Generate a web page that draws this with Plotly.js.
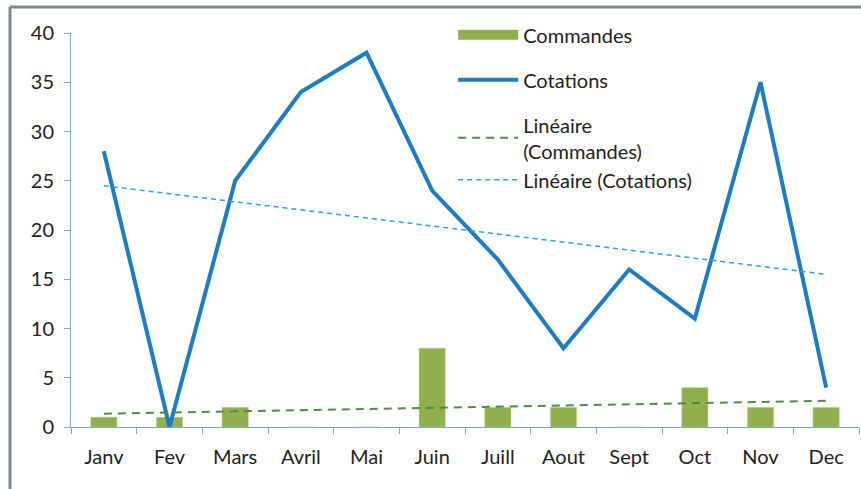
<!DOCTYPE html>
<html>
<head>
<meta charset="utf-8">
<script src="https://cdn.plot.ly/plotly-3.0.1.min.js"></script>
<style>
  body { margin: 0; background: #fff; }
  #grafico { width: 861px; height: 489px; }
</style>
</head>
<body>
<div id="grafico"></div>
<script>
// Datos
const mois = ['Janv', 'Fev', 'Mars', 'Avril', 'Mai', 'Juin', 'Juill', 'Aout', 'Sept', 'Oct', 'Nov', 'Dec'];
const commandes = [1, 1, 2, 0, 0, 8, 2, 2, 0, 4, 2, 2];
const cotations = [28, 0, 25, 34, 38, 24, 17, 8, 16, 11, 35, 4];
const ticksY = [0, 5, 10, 15, 20, 25, 30, 35, 40];

// Tendance linéaire (comme Excel) calculée sur les données
function regresionLineal(y) {
    const n = y.length;
    const x = y.map((v, i) => i + 1);
    const sumX = x.reduce((a, b) => a + b, 0);
    const sumY = y.reduce((a, b) => a + b, 0);
    const sumXY = x.reduce((acc, v, i) => acc + v * y[i], 0);
    const sumX2 = x.reduce((acc, v) => acc + v * v, 0);
    const m = (n * sumXY - sumX * sumY) / (n * sumX2 - sumX * sumX);
    const b = (sumY - m * sumX) / n;
    return x.map(v => m * v + b);
}

const fuente = 'Lato, Open Sans, sans-serif';
const verde = '#8fb04c';

const barras = {
    x: mois, y: commandes, type: 'bar', name: 'Commandes', showlegend: false,
    marker: {color: verde, line: {color: '#c9d98a', width: 0.5}},
    width: 0.4
};
// entrée de légende en forme de rectangle large (comme Excel)
const legendeBarras = {
    x: [null], y: [null], type: 'scatter', mode: 'lines', name: 'Commandes',
    line: {color: verde, width: 10}, legendgroup: 'a'
};
const lineaCot = {
    x: mois, y: cotations, type: 'scatter', mode: 'lines', name: 'Cotations',
    line: {color: '#1d7cc2', width: 4}, legendgroup: 'b'
};
const tendCom = {
    x: mois, y: regresionLineal(commandes), type: 'scatter', mode: 'lines',
    name: 'Linéaire<br>(Commandes)',
    line: {color: '#4f8c44', width: 2, dash: '8px,6px'}, legendgroup: 'c'
};
const tendCot = {
    x: mois, y: regresionLineal(cotations), type: 'scatter', mode: 'lines',
    name: 'Linéaire (Cotations)',
    line: {color: '#27a3e6', width: 1.5, dash: '5px,4px'}, legendgroup: 'c'
};

const layout = {
    width: 861, height: 489,
    margin: {l: 71, r: 2, t: 33, b: 62},
    paper_bgcolor: '#fff', plot_bgcolor: '#fff',
    font: {family: fuente, size: 20, color: '#222'},
    showlegend: true,
    legend: {
        x: 0.485, y: 1.045, xanchor: 'left', yanchor: 'top',
        bgcolor: 'rgba(0,0,0,0)', traceorder: 'grouped', tracegroupgap: 16,
        font: {family: fuente, size: 20, color: '#222'},
        itemwidth: 60
    },
    xaxis: {
        type: 'category', showgrid: false, showline: true, linecolor: '#7aa7cc', linewidth: 1,
        ticks: 'outside', ticklen: 6, tickcolor: '#7aa7cc', tickson: 'boundaries',
        range: [-0.5, 11.5], tickfont: {size: 20}, ticklabelstandoff: 12
    },
    yaxis: {
        range: [0, 40], tickvals: ticksY, showgrid: false, zeroline: false,
        showline: true, linecolor: '#7aa7cc', linewidth: 1,
        ticks: 'outside', ticklen: 6, tickcolor: '#7aa7cc', tickfont: {size: 20},
        ticklabelstandoff: 6
    },
    shapes: [
        // cadre gris du graphique
        {type: 'line', xref: 'paper', yref: 'paper', x0: -61 / 788, x1: -61 / 788, y0: 1 + 26 / 394, y1: -62 / 394,
         line: {color: '#7d8a93', width: 3}},
        {type: 'line', xref: 'paper', yref: 'paper', x0: -61 / 788, x1: 1.01, y0: 1 + 26 / 394, y1: 1 + 26 / 394,
         line: {color: '#7d8a93', width: 3}}
    ]
};

Plotly.newPlot('grafico', [barras, legendeBarras, lineaCot, tendCom, tendCot], layout, {displayModeBar: false});
</script>
</body>
</html>
